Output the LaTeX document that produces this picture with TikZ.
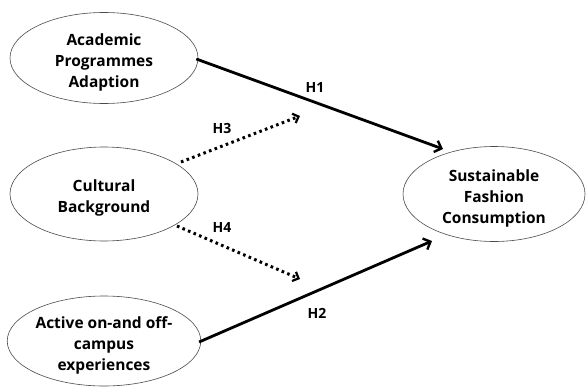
\documentclass[tikz,border=0pt]{standalone}
\usepackage{fontspec}
\setmainfont{Open Sans}
\usetikzlibrary{arrows.meta,shapes.geometric}
\newcommand{\vtxt}[1]{\raisebox{-4pt}[\height][\depth]{\begin{tabular}{@{}c@{}}#1\end{tabular}}}
\begin{document}
\begin{tikzpicture}[x=1pt,y=-1pt,
  var/.style={draw=black!70,line width=0.6pt,ellipse,minimum width=#1,inner sep=0pt,align=center,font=\fontsize{15.5}{21}\selectfont\bfseries},
  var/.default=188pt,
  solidarr/.style={line width=2.8pt,-{Straight Barb[length=6pt,width=12pt,line width=2.4pt]}},
  dotarr/.style={line width=3pt,dash pattern=on 2.6pt off 3.4pt,-{Straight Barb[length=5pt,width=10pt,line width=2.2pt]}},
  hlab/.style={font=\fontsize{14}{16}\selectfont\bfseries}]
\useasboundingbox (0,0) rectangle (586,388);
\fill[white] (0,0) rectangle (586,388);
\node[var, minimum height=91pt] (apa) at (104,58) {\vtxt{Academic\\Programmes\\Adaption}};
\node[var, minimum height=94pt] (cb) at (104,194) {\vtxt{Cultural\\Background}};
\node[var, minimum height=90pt] (act) at (104,341) {\vtxt{Active on-and off-\\campus\\experiences}};
\node[var=182pt, minimum height=95pt] (sfc) at (494,194) {\vtxt{Sustainable\\Fashion\\Consumption}};
\coordinate (h3end) at (300,116);
\coordinate (h4end) at (300,279);
\draw[solidarr] (apa.east |- 0,59) ++(-2,0) -- (443,149);
\draw[solidarr] (act.east |- 0,342) ++(-2,0) -- (432,241);
\draw[dotarr] (cb) ++(77,-32) -- (h3end);
\draw[dotarr] (cb) ++(73,32) -- (h4end);
\node[hlab] (l1) at (315,88) {H1};
\node[hlab] (l3) at (222,128) {H3};
\node[hlab] (l4) at (222,227) {H4};
\node[hlab] (l2) at (317,313) {H2};
\end{tikzpicture}
\end{document}
